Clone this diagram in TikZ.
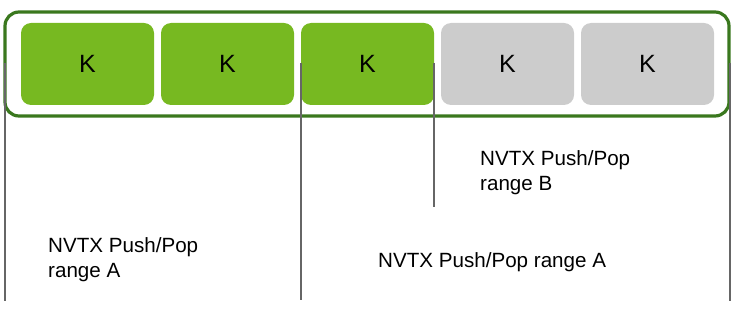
\documentclass[tikz,border=0pt]{standalone}
\usepackage{fontspec}
\setmainfont{Liberation Sans}
\definecolor{kgreen}{HTML}{77B921}
\definecolor{kgray}{HTML}{CCCCCC}
\definecolor{framegreen}{HTML}{3A781E}
\definecolor{linegray}{HTML}{666666}
\begin{document}
\begin{tikzpicture}[x=1pt,y=-1pt,
  kbox/.style={rounded corners=10pt,minimum width=133pt,minimum height=82pt,inner sep=0pt,
    font=\fontsize{25}{30}\selectfont,anchor=center},
  kon/.style={kbox,fill=kgreen},
  koff/.style={kbox,fill=kgray},
  frame/.style={draw=framegreen,line width=3.2pt,rounded corners=14pt},
  marker/.style={draw=linegray,line width=1.5pt},
  lbl/.style={font=\fontsize{20.6}{25}\selectfont,align=left,inner sep=0pt,anchor=west}]
\useasboundingbox (0,0) rectangle (736,323);
\draw[frame] (5,12) rectangle (729,116);
\node[kon]  (k1) at (87.5,64) {K};
\node[kon]  (k2) at (227.5,64) {K};
\node[kon]  (k3) at (367.5,64) {K};
\node[koff] (k4) at (507.5,64) {K};
\node[koff] (k5) at (647.5,64) {K};
\coordinate (a1t) at (5,63);   \coordinate (a1b) at (5,301);
\coordinate (a2t) at (301,63); \coordinate (a2b) at (301,300);
\coordinate (bt)  at (434,63); \coordinate (bb)  at (434,207);
\coordinate (a3t) at (730,63); \coordinate (a3b) at (730,301);
\draw[marker] (a1t) -- (a1b);
\draw[marker] (a2t) -- (a2b);
\draw[marker] (bt) -- (bb);
\draw[marker] (a3t) -- (a3b);
\node[lbl] (rb) at (480,172.5) {NVTX Push/Pop\\range B};
\node[lbl] (ra1) at (48,260) {NVTX Push/Pop\\range A};
\node[lbl] (ra2) at (378,262) {NVTX Push/Pop range A};
\end{tikzpicture}
\end{document}
